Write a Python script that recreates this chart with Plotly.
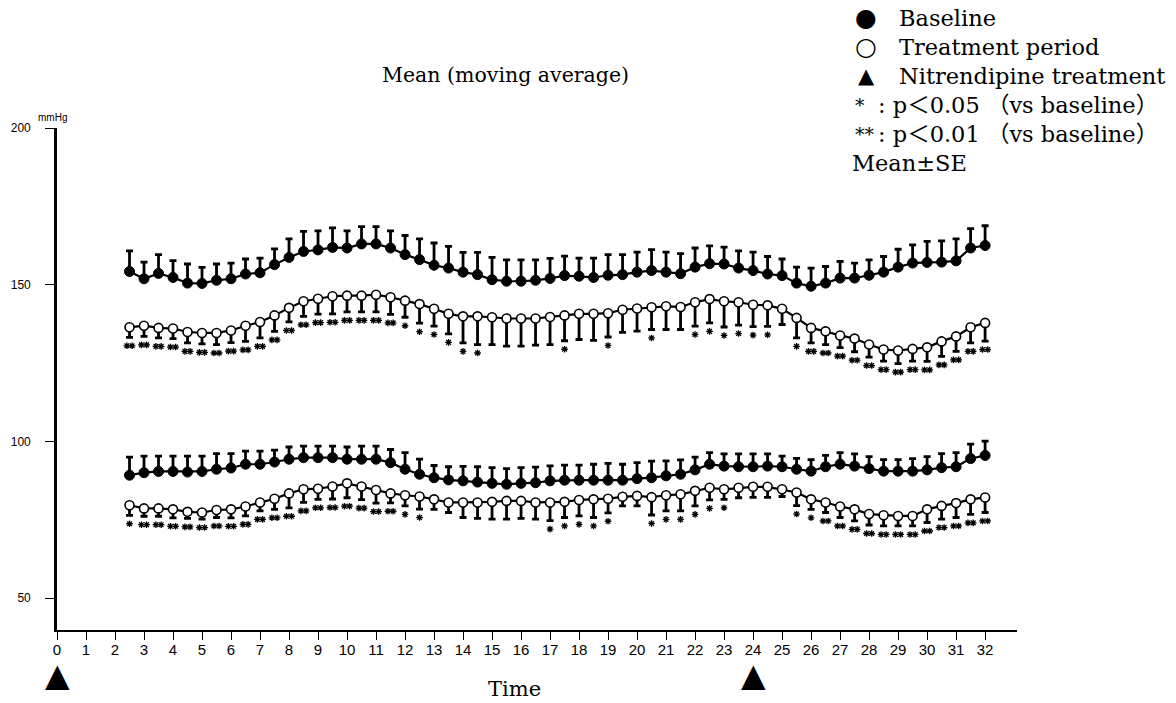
import plotly.graph_objects as go

time_h = [2.5, 3.0, 3.5, 4.0, 4.5, 5.0, 5.5, 6.0, 6.5, 7.0,
          7.5, 8.0, 8.5, 9.0, 9.5, 10.0, 10.5, 11.0, 11.5, 12.0,
          12.5, 13.0, 13.5, 14.0, 14.5, 15.0, 15.5, 16.0, 16.5, 17.0,
          17.5, 18.0, 18.5, 19.0, 19.5, 20.0, 20.5, 21.0, 21.5, 22.0,
          22.5, 23.0, 23.5, 24.0, 24.5, 25.0, 25.5, 26.0, 26.5, 27.0,
          27.5, 28.0, 28.5, 29.0, 29.5, 30.0, 30.5, 31.0, 31.5, 32.0]

sys_base = [154.2, 151.9, 153.6, 152.3, 150.5, 150.4, 151.4, 151.9, 153.4, 153.8,
            156.4, 158.7, 160.6, 161.1, 161.9, 161.7, 163.0, 163.0, 161.7, 159.6,
            158.0, 156.2, 155.3, 154.0, 153.2, 151.6, 151.1, 151.1, 151.4, 152.0,
            152.9, 152.7, 152.3, 153.0, 153.2, 154.0, 154.5, 154.0, 153.5, 155.6,
            156.7, 156.6, 155.3, 154.5, 153.4, 152.9, 150.5, 149.5, 150.5, 152.1,
            152.1, 153.0, 154.0, 155.6, 156.9, 157.1, 157.2, 157.6, 161.7, 162.5]
sys_base_se = [6.6, 5.3, 6.0, 5.4, 6.1, 5.1, 5.2, 5.0, 4.8, 4.7,
               5.0, 5.9, 6.4, 6.1, 6.2, 5.5, 5.5, 5.5, 5.5, 6.1,
               6.6, 7.1, 6.9, 6.3, 7.1, 7.1, 6.8, 6.8, 6.5, 6.4,
               6.2, 5.8, 6.2, 6.6, 6.4, 6.4, 6.7, 6.4, 6.4, 6.1,
               5.7, 5.4, 5.5, 5.9, 5.6, 5.3, 5.1, 5.8, 5.3, 5.3,
               4.8, 4.9, 5.0, 5.7, 5.8, 6.7, 6.8, 7.0, 6.2, 6.3]

sys_trt = [136.4, 136.9, 136.2, 136.0, 134.9, 134.6, 134.6, 135.4, 136.9, 138.1,
           140.2, 142.6, 144.7, 145.5, 146.3, 146.5, 146.5, 146.8, 146.0, 144.9,
           143.8, 142.3, 140.7, 139.9, 139.9, 139.6, 139.2, 139.2, 139.2, 139.7,
           140.2, 140.7, 140.7, 140.9, 142.0, 142.4, 142.8, 143.1, 142.9, 144.4,
           145.4, 144.7, 144.4, 143.6, 143.4, 142.3, 139.4, 136.2, 135.1, 133.8,
           132.8, 130.9, 129.3, 129.0, 129.5, 130.0, 131.9, 133.5, 136.4, 137.8]
sys_trt_se = [3.2, 3.4, 3.2, 3.2, 3.5, 3.5, 3.7, 3.9, 5.0, 5.1,
              5.1, 4.5, 4.8, 4.9, 5.6, 5.2, 5.2, 5.5, 5.5, 5.3,
              6.1, 5.5, 6.4, 8.5, 9.0, 8.7, 8.8, 8.8, 8.5, 8.8,
              8.1, 8.2, 8.5, 7.6, 7.2, 7.2, 7.1, 7.4, 7.2, 7.6,
              7.6, 8.2, 7.3, 7.0, 6.7, 5.0, 6.4, 4.8, 4.2, 3.9,
              4.2, 4.0, 3.7, 4.2, 3.9, 4.5, 4.8, 4.8, 5.0, 5.8]
# number of asterisks under each treatment point (1: p<0.05, 2: p<0.01)
sys_sig = [2] * 19 + [1] * 6 + [0] * 5 + [1, 0, 0, 1, 0, 0, 1, 0, 0] \
          + [1] * 6 + [0, 1] + [2] * 13

dia_base = [89.2, 90.0, 90.4, 90.4, 90.2, 90.4, 91.1, 91.5, 92.7, 92.7,
            93.4, 94.3, 94.8, 94.8, 94.8, 94.3, 94.3, 94.3, 93.2, 91.1,
            89.5, 88.4, 87.7, 87.4, 87.0, 86.6, 86.3, 86.6, 86.8, 87.4,
            87.6, 87.6, 87.6, 87.6, 87.6, 88.1, 88.4, 89.0, 89.5, 90.9,
            92.7, 92.1, 91.9, 91.9, 92.1, 91.9, 91.1, 90.5, 91.9, 92.7,
            92.1, 91.3, 90.5, 90.5, 90.5, 90.9, 91.6, 91.9, 94.5, 95.5]
dia_base_se = [5.8, 5.3, 4.9, 4.9, 5.1, 4.9, 5.0, 4.6, 4.2, 4.2,
               3.8, 3.9, 3.7, 3.7, 3.7, 3.9, 4.2, 4.2, 4.2, 5.3,
               4.8, 3.9, 4.2, 4.6, 4.9, 5.0, 5.0, 5.0, 5.0, 4.8,
               4.8, 4.8, 5.1, 5.4, 5.1, 5.1, 5.3, 4.8, 4.6, 4.1,
               3.7, 3.9, 4.1, 4.1, 3.9, 3.4, 3.5, 3.7, 3.6, 3.7,
               3.9, 3.8, 3.7, 3.7, 4.0, 4.2, 4.5, 4.5, 4.6, 4.6]

dia_trt = [79.6, 78.6, 78.6, 78.3, 77.5, 77.3, 78.1, 78.3, 79.2, 80.5,
           81.7, 83.4, 84.7, 84.9, 85.6, 86.6, 85.6, 84.5, 83.4, 82.8,
           82.4, 81.5, 80.5, 80.5, 80.5, 80.7, 81.0, 81.0, 80.5, 80.5,
           80.7, 81.3, 81.5, 81.7, 82.3, 82.6, 82.2, 82.8, 83.1, 84.2,
           85.2, 84.7, 85.2, 85.5, 85.5, 84.7, 83.7, 81.5, 80.5, 79.2,
           78.3, 76.8, 76.4, 76.2, 76.2, 78.3, 79.4, 80.3, 81.5, 82.1]
dia_trt_se = [3.2, 2.5, 2.5, 2.7, 2.1, 2.1, 2.4, 2.7, 3.0, 2.7,
              3.4, 4.6, 4.2, 3.4, 4.0, 4.6, 4.2, 4.2, 3.0, 3.4,
              4.0, 3.2, 3.2, 4.8, 5.1, 5.5, 5.8, 5.6, 5.3, 5.8,
              5.0, 5.1, 5.8, 4.5, 2.9, 3.2, 5.7, 5.0, 5.3, 4.8,
              3.9, 3.2, 3.2, 3.4, 3.4, 2.3, 4.2, 3.2, 3.2, 3.5,
              3.7, 3.5, 3.4, 3.2, 3.2, 4.2, 4.2, 4.6, 4.8, 4.8]
dia_sig = [1] + [2] * 18 + [1, 1] + [0] * 8 + [1] * 5 + [0, 0] \
          + [1] * 6 + [0] * 4 + [1, 1] + [2] * 12

dose_times = [0, 24]
x_ticks = list(range(0, 33))
y_ticks = [50, 100, 150, 200]

legend_lines = ["Baseline", "Treatment period", "Nitrendipine treatment",
                ": p＜0.05 （vs baseline）", ": p＜0.01 （vs baseline）", "Mean±SE"]
legend_syms = ["●", "○", "▲", "*", "**", ""]

SERIF = "DejaVu Serif, Liberation Serif, Noto Sans CJK JP, serif"
NARROW = "Liberation Sans Narrow, Arial Narrow, Liberation Sans, sans-serif"

fig = go.Figure()
zeros = [0] * len(time_h)
STAR_GAP = 2.7    # mmHg between the end of an error bar and its asterisks
STAR_PAIR = 0.09  # hours each asterisk of a pair sits off the point


def add_series(mean, se, filled, sig):
    if filled:
        err = dict(type="data", symmetric=False, array=se, arrayminus=zeros,
                   color="black", thickness=2.8, width=3.5)
        marker = dict(symbol="circle", size=10, color="black",
                      line=dict(color="black", width=1))
    else:
        err = dict(type="data", symmetric=False, array=zeros, arrayminus=se,
                   color="black", thickness=2.8, width=3.5)
        marker = dict(symbol="circle", size=9, color="white",
                      line=dict(color="black", width=1.6))
    fig.add_trace(go.Scatter(x=time_h, y=mean, mode="lines+markers",
                             line=dict(color="black", width=2.2),
                             marker=marker, error_y=err,
                             showlegend=False, hoverinfo="skip"))
    if sig is not None:
        sx, sy = [], []
        for t, m, s, n in zip(time_h, mean, se, sig):
            yv = m - s - STAR_GAP
            if n == 1:
                sx.append(t)
                sy.append(yv)
            elif n == 2:
                sx += [t - STAR_PAIR, t + STAR_PAIR]
                sy += [yv, yv]
        fig.add_trace(go.Scatter(x=sx, y=sy, mode="markers",
                                 marker=dict(symbol="asterisk", size=5.5,
                                             line=dict(color="black", width=1.3)),
                                 showlegend=False, hoverinfo="skip"))


add_series(sys_base, sys_base_se, True, None)
add_series(sys_trt, sys_trt_se, False, sys_sig)
add_series(dia_base, dia_base_se, True, None)
add_series(dia_trt, dia_trt_se, False, dia_sig)

# plot area in page pixels (body margin removed by post_script)
L, R, T, B = 57, 1017, 128, 630
W, H = 1176, 703


def px(xs):
    return (xs - L) / (R - L)


def py(ys):
    return (B - ys) / (B - T)


ann = []
for t in dose_times:
    ann.append(dict(x=t, y=py(675), xref="x", yref="paper", text="▲", showarrow=False,
                    xanchor="center", yanchor="middle",
                    font=dict(family="DejaVu Sans", size=32, color="black")))
ann.append(dict(x=px(505), y=py(75), text="Mean (moving average)", showarrow=False,
                xref="paper", yref="paper", xanchor="center", yanchor="middle",
                font=dict(family=SERIF, size=20.5, color="black")))
ann.append(dict(x=px(514), y=py(689), text="Time", showarrow=False,
                xref="paper", yref="paper", xanchor="center", yanchor="middle",
                font=dict(family=SERIF, size=21, color="black")))
ann.append(dict(x=px(52), y=py(117), text="mmHg", showarrow=False,
                xref="paper", yref="paper", xanchor="center", yanchor="middle",
                font=dict(family=NARROW, size=10, color="black")))

rows = [18, 47, 76, 105, 134, 163]
for i, (sym, txt) in enumerate(zip(legend_syms, legend_lines)):
    yy = py(rows[i])
    if i < 3:
        ann.append(dict(x=px(866), y=yy, text=sym, showarrow=False,
                        xref="paper", yref="paper", xanchor="center", yanchor="middle",
                        font=dict(family="DejaVu Sans", size=25 if i < 2 else 21, color="black")))
        ann.append(dict(x=px(897), y=yy, text=txt, showarrow=False,
                        xref="paper", yref="paper", xanchor="left", yanchor="middle",
                        font=dict(family=SERIF, size=22.5, color="black")))
    elif i < 5:
        ann.append(dict(x=px(853), y=yy, text=sym, showarrow=False,
                        xref="paper", yref="paper", xanchor="left", yanchor="middle",
                        font=dict(family=SERIF, size=19, color="black")))
        ann.append(dict(x=px(876), y=yy, text=txt, showarrow=False,
                        xref="paper", yref="paper", xanchor="left", yanchor="middle",
                        font=dict(family=SERIF, size=22.5, color="black")))
    else:
        ann.append(dict(x=px(850), y=yy, text=txt, showarrow=False,
                        xref="paper", yref="paper", xanchor="left", yanchor="middle",
                        font=dict(family=SERIF, size=22.5, color="black")))

fig.update_layout(
    width=W, height=H,
    margin=dict(l=L, r=W - R, t=T, b=H - B, pad=0),
    paper_bgcolor="white", plot_bgcolor="white",
    showlegend=False,
    annotations=ann,
    xaxis=dict(range=[0, 33.1], tickmode="array", tickvals=x_ticks,
               ticktext=[str(v) for v in x_ticks],
               showgrid=False, zeroline=False, showline=True, linecolor="black",
               linewidth=2.2, ticks="outside", ticklen=8, tickwidth=1.2, tickcolor="black",
               ticklabelstandoff=-3,
               tickfont=dict(family=NARROW, size=15, color="black")),
    yaxis=dict(range=[39.8, 200], tickmode="array", tickvals=y_ticks,
               showgrid=False, zeroline=False, showline=True, linecolor="black",
               linewidth=2.6, ticks="outside", ticklen=9, tickwidth=1.2, tickcolor="black",
               ticklabelstandoff=12,
               tickfont=dict(family="Liberation Sans, Arial, sans-serif", size=12, color="black")),
)

fig.write_html("out.html", config={"displayModeBar": False},
               post_script="document.body.style.margin='0';document.body.style.overflow='hidden';")
